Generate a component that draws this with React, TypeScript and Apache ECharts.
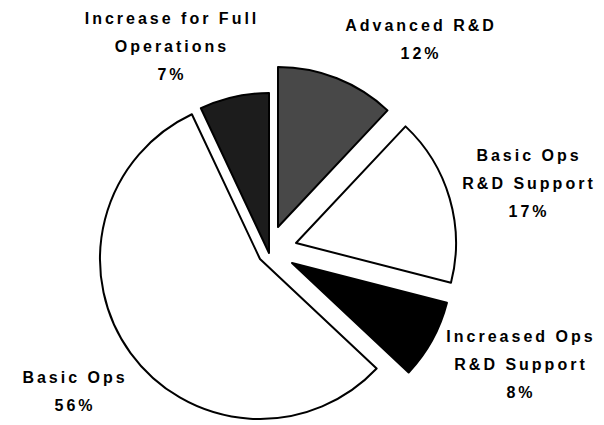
import React, { useEffect, useRef } from "react";
import * as echarts from "echarts";

// Slice names (clockwise from 12 o'clock) and their shares (%)
const sliceNames: string[] = [
  "Advanced R&D",
  "Basic Ops\nR&D Support",
  "Increased Ops\nR&D Support",
  "Basic Ops",
  "Increase for Full\nOperations",
];
const sliceValues: number[] = [12, 17, 8, 56, 7];

// Styling / layout (not data)
const sliceColors: string[] = ["#484848", "#ffffff", "#000000", "#ffffff", "#1c1c1c"];
const sliceCenters: [number, number][] = [
  [278, 227],
  [296, 243],
  [292, 263],
  [260, 259],
  [269, 253],
];
const labelPositions: [number, number][] = [
  [421, 39],
  [529, 183.5],
  [521, 364],
  [75, 391],
  [172, 46.5],
];

export default function App() {
  const ref = useRef<HTMLDivElement>(null);
  useEffect(() => {
    if (!ref.current) return;
    const chart = echarts.init(ref.current, undefined, { renderer: "svg" });
    const series = sliceValues.map((_, si) => ({
      type: "pie" as const,
      center: sliceCenters[si],
      radius: [0, 160],
      startAngle: 90,
      clockwise: true,
      silent: true,
      avoidLabelOverlap: false,
      emphasis: { disabled: true },
      labelLine: { show: false },
      labelLayout: (params: any) => {
        const p = labelPositions[params.dataIndex];
        return { x: p[0], y: p[1], align: "center", verticalAlign: "middle" };
      },
      data: sliceNames.map((name, i) => ({
        name,
        value: sliceValues[i],
        itemStyle:
          i === si
            ? { color: sliceColors[i], borderColor: "#000", borderWidth: 2 }
            : { color: "rgba(0,0,0,0)", borderWidth: 0 },
        label:
          i === si
            ? {
                show: true,
                position: "outside",
                formatter: () => `${sliceNames[i]}\n${sliceValues[i]}%`,
                fontFamily: "Liberation Sans, Arial, sans-serif",
                fontWeight: "bold",
                fontSize: 16,
                lineHeight: 28,
                color: "#000",
                align: "center",
              }
            : { show: false },
      })),
    }));
    chart.setOption({
      animation: false,
      backgroundColor: "#ffffff",
      series,
    });
    return () => chart.dispose();
  }, []);
  return (
    <>
      <style>{`body{margin:0;} .pie-chart text{letter-spacing:3px;}`}</style>
      <div ref={ref} className="pie-chart" style={{ width: 604, height: 425 }} />
    </>
  );
}
